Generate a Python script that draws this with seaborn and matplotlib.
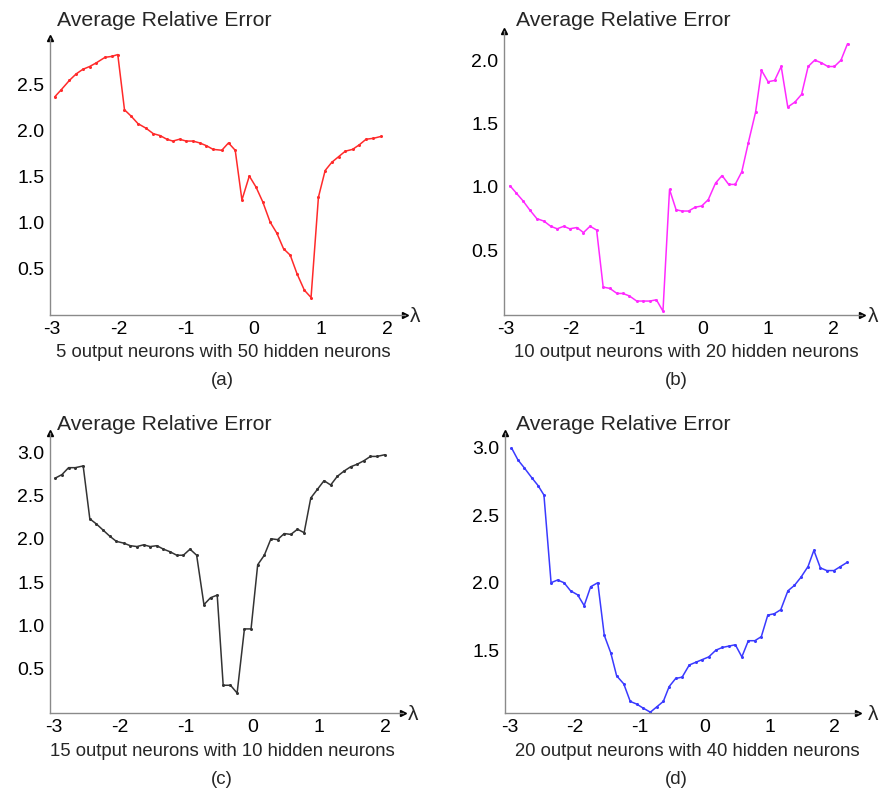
import matplotlib
matplotlib.use("Agg")
import matplotlib.pyplot as plt
import seaborn as sns
import pandas as pd
from matplotlib.ticker import FixedLocator, MultipleLocator, FormatStrFormatter

# Setup
sns.set_style("white")
plt.rcParams['font.family'] = ['Liberation Sans', 'DejaVu Sans']
plt.rcParams['axes.unicode_minus'] = False

W, H = 893, 797

# (a) 5 output neurons / 50 hidden
lam_a = [-2.96, -2.86, -2.74, -2.64, -2.54, -2.44, -2.34, -2.21, -2.11, -2.02,
         -1.92, -1.82, -1.72, -1.60, -1.49, -1.39, -1.29, -1.20, -1.10, -1.00,
         -0.90, -0.80, -0.70, -0.60, -0.47, -0.37, -0.27, -0.17, -0.06, 0.04,
         0.14, 0.25, 0.35, 0.45, 0.55, 0.65, 0.76, 0.86, 0.97, 1.07,
         1.17, 1.27, 1.37, 1.48, 1.58, 1.68, 1.79, 1.90]
err_a = [2.37, 2.45, 2.55, 2.62, 2.67, 2.70, 2.74, 2.80, 2.81, 2.83,
         2.23, 2.16, 2.08, 2.03, 1.97, 1.95, 1.91, 1.89, 1.91, 1.89,
         1.89, 1.87, 1.84, 1.80, 1.79, 1.87, 1.79, 1.25, 1.51, 1.39,
         1.23, 1.01, 0.89, 0.72, 0.65, 0.45, 0.27, 0.19, 1.28, 1.57,
         1.66, 1.72, 1.78, 1.80, 1.85, 1.91, 1.92, 1.94]

# (b) 10 output neurons / 20 hidden
lam_b = [-2.93, -2.83, -2.73, -2.63, -2.52, -2.41, -2.31, -2.21, -2.11, -2.02,
         -1.91, -1.81, -1.71, -1.61, -1.51, -1.41, -1.30, -1.21, -1.11, -1.00,
         -0.90, -0.80, -0.70, -0.60, -0.50, -0.40, -0.31, -0.21, -0.11, -0.01,
         0.09, 0.20, 0.30, 0.40, 0.50, 0.60, 0.70, 0.81, 0.90, 1.00,
         1.10, 1.20, 1.30, 1.41, 1.51, 1.61, 1.71, 1.81, 1.91, 2.01,
         2.11, 2.21]
err_b = [1.01, 0.95, 0.89, 0.82, 0.75, 0.73, 0.69, 0.67, 0.69, 0.67,
         0.68, 0.64, 0.69, 0.66, 0.21, 0.20, 0.16, 0.16, 0.14, 0.10,
         0.10, 0.10, 0.11, 0.02, 0.98, 0.82, 0.81, 0.81, 0.84, 0.85,
         0.90, 1.03, 1.09, 1.02, 1.02, 1.12, 1.35, 1.59, 1.92, 1.83,
         1.84, 1.95, 1.63, 1.67, 1.73, 1.95, 2.00, 1.98, 1.95, 1.95,
         2.00, 2.13]

# (c) 15 output neurons / 10 hidden
lam_c = [-2.97, -2.87, -2.77, -2.67, -2.55, -2.45, -2.35, -2.25, -2.15, -2.05,
         -1.94, -1.84, -1.74, -1.64, -1.54, -1.44, -1.34, -1.24, -1.14, -1.04,
         -0.94, -0.84, -0.73, -0.63, -0.53, -0.44, -0.33, -0.23, -0.12, -0.02,
         0.08, 0.18, 0.28, 0.38, 0.48, 0.58, 0.68, 0.78, 0.88, 0.98,
         1.08, 1.18, 1.28, 1.38, 1.48, 1.58, 1.68, 1.78, 1.88, 2.00]
err_c = [2.70, 2.74, 2.82, 2.82, 2.84, 2.23, 2.17, 2.10, 2.03, 1.97,
         1.95, 1.92, 1.91, 1.93, 1.91, 1.92, 1.88, 1.85, 1.81, 1.81,
         1.88, 1.81, 1.24, 1.32, 1.35, 0.31, 0.31, 0.22, 0.96, 0.96,
         1.70, 1.81, 2.00, 1.99, 2.06, 2.05, 2.11, 2.07, 2.47, 2.57,
         2.67, 2.62, 2.72, 2.78, 2.83, 2.86, 2.90, 2.95, 2.95, 2.97]

# (d) 20 output neurons / 40 hidden
lam_d = [-2.98, -2.88, -2.78, -2.67, -2.57, -2.48, -2.37, -2.27, -2.17, -2.07,
         -1.96, -1.86, -1.76, -1.65, -1.55, -1.45, -1.36, -1.25, -1.15, -1.05,
         -0.95, -0.84, -0.74, -0.64, -0.55, -0.45, -0.35, -0.24, -0.14, -0.04,
         0.06, 0.17, 0.27, 0.37, 0.47, 0.57, 0.67, 0.77, 0.87, 0.97,
         1.07, 1.17, 1.28, 1.38, 1.48, 1.59, 1.68, 1.78, 1.88, 1.99,
         2.09, 2.19]
err_d = [3.00, 2.91, 2.85, 2.78, 2.72, 2.65, 2.00, 2.02, 2.00, 1.94,
         1.91, 1.83, 1.97, 2.00, 1.61, 1.48, 1.31, 1.25, 1.12, 1.10,
         1.07, 1.04, 1.08, 1.12, 1.23, 1.29, 1.30, 1.39, 1.41, 1.43,
         1.45, 1.50, 1.52, 1.53, 1.54, 1.45, 1.57, 1.57, 1.60, 1.76,
         1.77, 1.80, 1.94, 1.98, 2.04, 2.12, 2.24, 2.11, 2.09, 2.09,
         2.12, 2.15]

x_ticks = [-3, -2, -1, 0, 1, 2]
captions = ["5 output neurons with 50 hidden neurons",
            "10 output neurons with 20 hidden neurons",
            "15 output neurons with 10 hidden neurons",
            "20 output neurons with 40 hidden neurons"]
tags = ["(a)", "(b)", "(c)", "(d)"]

panels = [
    dict(lam=lam_a, err=err_a, color="#ff2a2a", box=(50, 38, 405, 315),
         xlim=(-3.03, 2.26), ylim=(0, 3.01), yticks=[0.5, 1.0, 1.5, 2.0, 2.5],
         cap=(223, 353), tag=(222, 380), lab=(415, 316), title=(57, 20)),
    dict(lam=lam_b, err=err_b, color="#ff2aff", box=(504, 31, 862, 315),
         xlim=(-3.02, 2.43), ylim=(-0.01, 2.23), yticks=[0.5, 1.0, 1.5, 2.0],
         cap=(686, 353), tag=(676, 380), lab=(873, 316), title=(516, 20)),
    dict(lam=lam_c, err=err_c, color="#333333", box=(50, 433, 403, 713),
         xlim=(-3.05, 2.27), ylim=(-0.01, 3.22), yticks=[0.5, 1.0, 1.5, 2.0, 2.5, 3.0],
         cap=(222, 752), tag=(222, 780), lab=(413, 714), title=(57, 425)),
    dict(lam=lam_d, err=err_d, color="#3a3aff", box=(505, 433, 858, 713),
         xlim=(-3.08, 2.36), ylim=(1.034, 3.11), yticks=[1.5, 2.0, 2.5, 3.0],
         cap=(687, 752), tag=(676, 780), lab=(873, 714), title=(516, 425)),
]

fig = plt.figure(figsize=(W / 100, H / 100), dpi=100)
axis_grey = "#8a8a8a"

for i, p in enumerate(panels):
    l, t, r, b = p["box"]
    ax = fig.add_axes([l / W, 1 - b / H, (r - l) / W, (b - t) / H])
    df = pd.DataFrame({"lam": p["lam"], "err": p["err"]})
    sns.lineplot(data=df, x="lam", y="err", ax=ax, color=p["color"], lw=1.1,
                 marker="o", markersize=2.2, markeredgewidth=0, sort=False,
                 clip_on=False)
    ax.set_xlim(*p["xlim"])
    ax.set_ylim(*p["ylim"])
    ax.set_xlabel("")
    ax.set_ylabel("")
    for s in ["top", "right"]:
        ax.spines[s].set_visible(False)
    for s in ["left", "bottom"]:
        ax.spines[s].set_color(axis_grey)
        ax.spines[s].set_linewidth(1.0)
    ax.xaxis.set_major_locator(FixedLocator(x_ticks))
    ax.xaxis.set_minor_locator(MultipleLocator(0.2))
    ax.yaxis.set_major_locator(FixedLocator(p["yticks"]))
    ax.yaxis.set_minor_locator(MultipleLocator(0.1))
    ax.yaxis.set_major_formatter(FormatStrFormatter("%.1f"))
    ax.xaxis.set_major_formatter(FormatStrFormatter("%d"))
    ax.tick_params(which="both", direction="in", color=axis_grey,
                   labelcolor="black", labelsize=14)
    ax.tick_params(which="major", length=4, width=0.9)
    ax.tick_params(which="minor", length=2.5, width=0.7)
    ax.tick_params(axis="x", pad=4)
    ax.tick_params(axis="y", pad=4)
    # arrow heads on the axes
    ax.plot(1, 0, marker=">", color="black", ms=4.5, transform=ax.transAxes, clip_on=False)
    ax.plot(0, 1, marker="^", color="black", ms=4.5, transform=ax.transAxes, clip_on=False)

    tx, ty = p["title"]
    fig.text(tx / W, 1 - ty / H, "Average Relative Error", ha="left", va="center", fontsize=15.3)
    cx, cy = p["cap"]
    fig.text(cx / W, 1 - cy / H, captions[i], ha="center", va="center", fontsize=13.3)
    gx, gy = p["tag"]
    fig.text(gx / W, 1 - gy / H, tags[i], ha="center", va="center", fontsize=13.5)
    lx, ly = p["lab"]
    fig.text(lx / W, 1 - ly / H, "λ", ha="center", va="center", fontsize=15)

fig.savefig("out.png", dpi=100)
